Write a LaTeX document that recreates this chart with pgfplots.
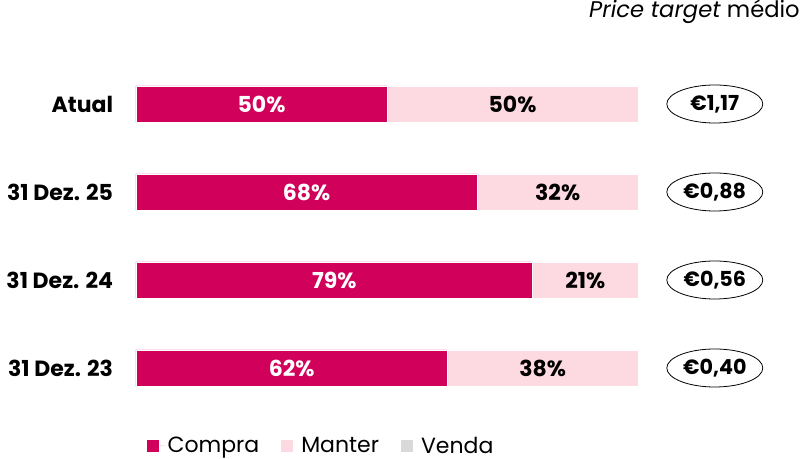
\documentclass[border=0pt]{standalone}
\usepackage{pgfplots}
\pgfplotsset{compat=1.18}
\usepackage{fontspec}
\setmainfont{Poppins}
\usetikzlibrary{shapes.geometric}
\definecolor{compra}{HTML}{D1005A}
\definecolor{manter}{HTML}{FDD9E2}
\definecolor{venda}{HTML}{D9D9D9}
\begin{document}
\begin{tikzpicture}
\useasboundingbox (0,0) rectangle (600pt,344.25pt);
\begin{axis}[
  at={(102pt,35.25pt)}, anchor=south west,
  scale only axis, width=376.5pt, height=264pt,
  xbar stacked, bar width=27pt,
  xmin=0, xmax=100, ymin=-0.5, ymax=3.5,
  hide x axis, axis y line*=left, y axis line style={draw=none},
  ytick={0,1,2,3}, yticklabels={31 Dez. 23,31 Dez. 24,31 Dez. 25,Atual},
  ytick style={draw=none},
  yticklabel style={font=\fontsize{16.5}{18}\selectfont\bfseries, anchor=east, inner sep=0pt, xshift=-17pt},
  clip=false,
  legend style={at={(rel axis cs:0.012,-0.0966)}, anchor=west, draw=none, fill=none,
    legend columns=3, font=\fontsize{16.5}{18}\selectfont,
    /tikz/every even column/.append style={column sep=13.5pt}},
  legend image code/.code={\path (0pt,0pt) -- (13.4pt,0pt);\fill[#1] (0pt,-4.8pt) rectangle (9.6pt,4.8pt);},
]
\addplot[fill=compra, draw=white, line width=0.6pt] coordinates {(62,0) (79,1) (68,2) (50,3)};
\addlegendentry{Compra}
\addplot[fill=manter, draw=white, line width=0.6pt] coordinates {(38,0) (21,1) (32,2) (50,3)};
\addlegendentry{Manter}
\addplot[fill=venda, draw=white, line width=0.6pt] coordinates {(0,0) (0,1) (0,2) (0,3)};
\addlegendentry{Venda}
\end{axis}
\begin{axis}[
  at={(102pt,35.25pt)}, anchor=south west,
  scale only axis, width=376.5pt, height=264pt,
  xmin=0, xmax=100, ymin=-0.5, ymax=3.5,
  hide axis, clip=false,
]
\addplot[only marks, mark=none, nodes near coords, point meta=explicit symbolic,
  every node near coord/.append style={anchor=center, text=white, font=\fontsize{16.5}{18}\selectfont\bfseries}]
  table[meta=label, row sep=\\] {x y label\\ 31 0 62\%\\ 39.5 1 79\%\\ 34 2 68\%\\ 25 3 50\%\\};
\addplot[only marks, mark=none, nodes near coords, point meta=explicit symbolic,
  every node near coord/.append style={anchor=center, text=black, font=\fontsize{16.5}{18}\selectfont\bfseries}]
  table[meta=label, row sep=\\] {x y label\\ 81 0 38\%\\ 89.5 1 21\%\\ 84 2 32\%\\ 75 3 50\%\\};
\addplot[only marks, mark=none, nodes near coords, point meta=explicit symbolic,
  every node near coord/.append style={anchor=center, text=black, draw=black, line width=0.6pt, ellipse, minimum width=72pt, minimum height=28.5pt, inner sep=0pt, font=\fontsize{15.5}{17}\selectfont\bfseries}]
  table[meta=label, row sep=\\] {x y label\\ 115.3 0 €0,40\\ 115.3 1 €0,56\\ 115.3 2 €0,88\\ 115.3 3 €1,17\\};
\end{axis}
\node[anchor=north east, inner sep=0pt, font=\fontsize{17}{19}\selectfont] at (600pt,344.25pt) {\textit{Price target} médio};
\end{tikzpicture}
\end{document}
